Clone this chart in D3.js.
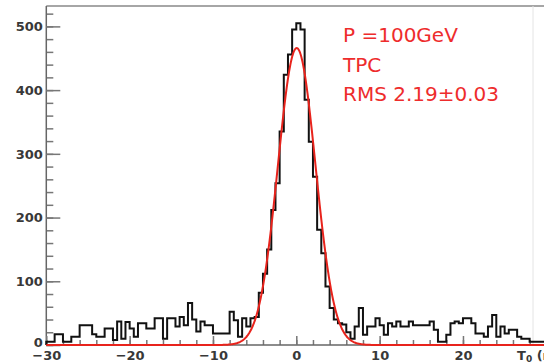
<!DOCTYPE html>
<meta charset="utf-8">
<html>
<head>
<style>
  body { margin: 0; background: #fff; }
  svg { display: block; }
  .tick text { font-family: "DejaVu Sans", sans-serif; font-weight: bold; font-size: 13px; fill: #383838; }
  .tick line { stroke: #777; stroke-width: 1.5; }
  .domain { stroke: #666; stroke-width: 1.5; }
</style>
</head>
<body>
<div id="chart"></div>
<script src="https://d3js.org/d3.v7.min.js"></script>
<script>

// histogram: 120 bins of 0.5 ns from -30 to 30
var binLow = -30, binWidth = 0.5;
var counts = [
  5, 5, 17, 17, 5, 5, 13, 13, 31, 31,
  31, 17, 13, 13, 26, 26, 8, 37, 10, 36,
  26, 13, 34, 34, 26, 26, 42, 42, 10, 42,
  42, 29, 44, 31, 66, 40, 21, 37, 31, 31,
  18, 18, 18, 18, 52, 39, 13, 42, 29, 42,
  44, 82, 112, 150, 212, 254, 335, 424, 456, 495,
  505, 495, 385, 319, 264, 181, 144, 92, 58, 40,
  34, 32, 20, 10, 29, 58, 16, 29, 29, 42,
  31, 16, 34, 29, 37, 29, 29, 37, 31, 31,
  31, 31, 37, 24, 5, 5, 16, 34, 37, 34,
  42, 42, 34, 18, 18, 13, 29, 47, 13, 29,
  18, 24, 24, 13, 10, 10, 5, 5, 5, 5
];

// gaussian fit: constant, mean, sigma
var fitParams = [466, 0.05, 2.25];

var xMajor = [-30, -20, -10, 0, 10, 20];
var yMajor = [0, 100, 200, 300, 400, 500];

var legendLines = ["P =100GeV", "TPC", "RMS 2.19\u00b10.03"];

var W = 544, H = 362;
var x0 = 46.3, x1 = 546.3, yBot = 345, yTop = 6;

var svg = d3.select("#chart").append("svg")
  .attr("width", W)
  .attr("height", H);

svg.append("rect").attr("width", W).attr("height", H).attr("fill", "#fff");

var x = d3.scaleLinear().domain([-30, 30]).range([x0, x1]);
var y = d3.scaleLinear().domain([0, 532]).range([yBot, yTop]);

// frame: top line and a faint right edge
svg.append("line")
  .attr("x1", x0).attr("x2", W).attr("y1", yTop).attr("y2", yTop)
  .attr("stroke", "#888").attr("stroke-width", 1.5);
svg.append("line")
  .attr("x1", 533).attr("x2", 533).attr("y1", yTop).attr("y2", yBot)
  .attr("stroke", "#e4e4e4").attr("stroke-width", 1);

// minor ticks
var yMinor = d3.range(0, 521, 20);
var xMinor = d3.range(-30, 31, 2);

svg.append("g")
  .attr("transform", "translate(" + x0 + ",0)")
  .call(d3.axisLeft(y).tickValues(yMinor).tickSize(-7).tickSizeOuter(0).tickFormat(""))
  .call(function(g) { g.select(".domain").remove(); });

svg.append("g")
  .attr("transform", "translate(0," + yBot + ")")
  .call(d3.axisBottom(x).tickValues(xMinor).tickSize(-5).tickSizeOuter(0).tickFormat(""))
  .call(function(g) { g.select(".domain").remove(); });

// major ticks + labels
svg.append("g")
  .attr("transform", "translate(" + x0 + ",0)")
  .call(d3.axisLeft(y).tickValues(yMajor).tickSize(-14).tickSizeOuter(0).tickPadding(3.5))
  .call(function(g) {
    g.select(".domain").attr("d", "M0," + yTop + "V" + yBot);
    // the zero label sits a little higher so it clears the -30 below it
    g.selectAll(".tick text").filter(function(d) { return d === 0; }).attr("dy", "0.1em");
  });

svg.append("g")
  .attr("transform", "translate(0," + yBot + ")")
  .call(d3.axisBottom(x).tickValues(xMajor).tickSize(-9).tickSizeOuter(0).tickPadding(6))
  .call(function(g) { g.select(".domain").attr("d", "M" + x0 + ",0H" + W); });

// x axis title (cut at the right edge, as in the original)
var title = svg.append("text")
  .attr("x", 517).attr("y", 360)
  .attr("font-family", "DejaVu Sans, sans-serif")
  .attr("font-weight", "bold")
  .attr("font-size", 13)
  .attr("fill", "#383838");
title.append("tspan").text("T");
title.append("tspan").attr("font-size", 9).attr("dy", 2).text("0");
title.append("tspan").attr("dy", -2).text(" (ns)");

// histogram outline
var pts = [[x(binLow), y(0)]];
counts.forEach(function(c, i) {
  var a = binLow + i * binWidth;
  pts.push([x(a), y(c)]);
  pts.push([x(a + binWidth), y(c)]);
});
pts.push([x(binLow + counts.length * binWidth), y(0)]);

svg.append("path")
  .attr("d", d3.line()(pts))
  .attr("fill", "none")
  .attr("stroke", "#111")
  .attr("stroke-width", 2)
  .attr("stroke-linejoin", "miter");

// fit curve
function gaus(t) {
  var d = (t - fitParams[1]) / fitParams[2];
  return fitParams[0] * Math.exp(-0.5 * d * d);
}
var fx = d3.range(-30, 30.001, 0.05);
svg.append("path")
  .attr("d", d3.line().x(function(t) { return x(t); }).y(function(t) { return y(gaus(t)); })(fx))
  .attr("fill", "none")
  .attr("stroke", "#e8231c")
  .attr("stroke-width", 2);

// legend text
svg.append("g").selectAll("text")
  .data(legendLines)
  .join("text")
  .attr("x", 343)
  .attr("y", function(d, i) { return 42 + i * 29.5; })
  .attr("font-family", "DejaVu Sans, sans-serif")
  .attr("font-size", 20)
  .attr("fill", "#ee2c2c")
  .text(function(d) { return d; });

</script>
</body>
</html>
